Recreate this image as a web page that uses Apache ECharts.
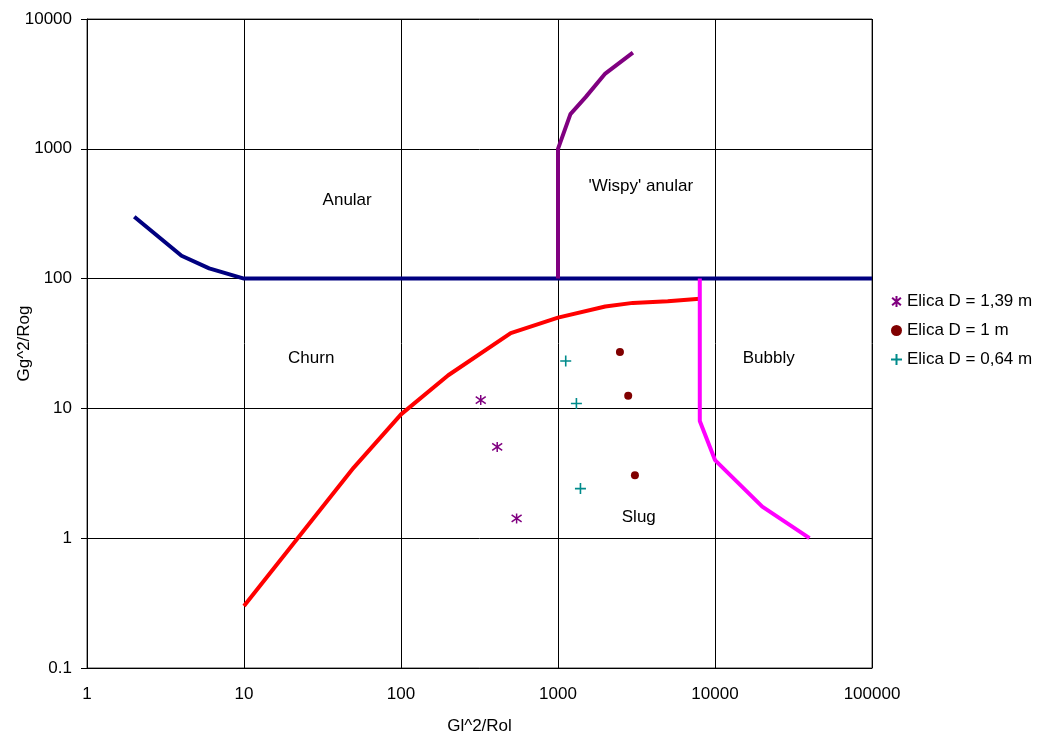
<!DOCTYPE html>
<html>
<head>
<meta charset="utf-8">
<script src="https://cdn.jsdelivr.net/npm/echarts@6/dist/echarts.min.js"></script>
<style>html,body{margin:0;padding:0;background:#fff}#c{width:1042px;height:735px}</style>
</head>
<body>
<div id="c"></div>
<script>
// Boundary lines
const anularLine = [[2, 300], [4, 150], [6, 120], [10, 100], [100000, 100]];
const wispyLine = [[1000, 100], [1000, 1000], [1200, 1850], [1500, 2500], [2000, 3800], [3000, 5500]];
const churnLine = [[10, 0.3], [50, 3.5], [100, 9], [200, 18], [500, 38], [1000, 50], [2000, 61], [3000, 65], [5000, 67], [8000, 70]];
const bubblyLine = [[8000, 100], [8000, 8], [10000, 4], [20000, 1.75], [40000, 1]];

// Measured points
const elica139 = [[322, 11.6], [410, 5.05], [545, 1.42]];
const elica100 = [[2480, 27.2], [2800, 12.5], [3090, 3.06]];
const elica064 = [[1120, 23.2], [1310, 10.9], [1390, 2.41]];

const seriesNames = ['Elica D = 1,39 m', 'Elica D = 1 m', 'Elica D = 0,64 m'];

// Region labels
const regionNames = ['Anular', "'Wispy' anular", 'Churn', 'Bubbly', 'Slug'];
const regionX = [45.4, 3370, 26.8, 22000, 3270];
const regionY = [400, 512, 24.2, 24.2, 1.45];

const xTicks = ['1', '10', '100', '1000', '10000', '100000'];
const yTicks = ['0.1', '1', '10', '100', '1000', '10000'];

const FONT = 'Liberation Sans, Arial, sans-serif';
const chart = echarts.init(document.getElementById('c'));

const regionData = regionNames.map((n, i) => [regionX[i], regionY[i], n]);

function fmt(v) {
  const e = Math.round(Math.log10(v));
  if (e < 0) return yTicks[0];
  return String(Math.pow(10, e));
}

chart.setOption({
  animation: false,
  backgroundColor: '#fff',
  textStyle: { fontFamily: FONT },
  grid: { left: 87, right: 170, top: 19, bottom: 67, show: true, borderColor: '#444', borderWidth: 1, containLabel: false, outerBoundsMode: 'none' },
  xAxis: {
    type: 'log', logBase: 10, min: 1, max: 100000,
    name: 'Gl^2/Rol', nameLocation: 'middle', nameGap: 50, nameMoveOverlap: false,
    nameTextStyle: { fontSize: 17, color: '#000', fontFamily: FONT },
    axisLine: { show: true, onZero: false, lineStyle: { color: '#000', width: 1 } },
    axisTick: { show: false },
    axisLabel: { fontSize: 17, color: '#000', margin: 18, fontFamily: FONT, formatter: fmt },
    splitLine: { show: true, lineStyle: { color: '#000', width: 1 } },
    minorTick: { show: false }
  },
  yAxis: {
    type: 'log', logBase: 10, min: 0.1, max: 10000,
    name: 'Gg^2/Rog', nameLocation: 'middle', nameGap: 54, nameMoveOverlap: false,
    nameTextStyle: { fontSize: 17, color: '#000', fontFamily: FONT },
    axisLine: { show: true, onZero: false, lineStyle: { color: '#000', width: 1 } },
    axisTick: { show: true, inside: false, length: 6, lineStyle: { color: '#000' } },
    axisLabel: { fontSize: 17, color: '#000', margin: 15, fontFamily: FONT, formatter: fmt },
    splitLine: { show: true, lineStyle: { color: '#000', width: 1 } }
  },
  legend: {
    orient: 'vertical', left: 885, top: 288, itemGap: 12,
    itemWidth: 11, itemHeight: 11,
    data: seriesNames,
    textStyle: { fontSize: 17, color: '#000', fontFamily: FONT }
  },
  series: [
    { type: 'line', data: anularLine, symbol: 'none', lineStyle: { color: '#000080', width: 4 }, silent: true, z: 3 },
    { type: 'line', data: wispyLine, symbol: 'none', lineStyle: { color: '#800080', width: 4 }, silent: true, z: 3 },
    { type: 'line', data: churnLine, symbol: 'none', lineStyle: { color: '#FF0000', width: 4 }, silent: true, z: 3 },
    { type: 'line', data: bubblyLine, symbol: 'none', lineStyle: { color: '#FF00FF', width: 4 }, silent: true, z: 3 },
    {
      name: seriesNames[0], type: 'scatter', data: elica139,
      symbol: 'path://M5,0L5,10M1,1.5L9,8.5M1,8.5L9,1.5', symbolSize: 10,
      itemStyle: { color: 'rgba(0,0,0,0)', borderColor: '#800080', borderWidth: 1.5, opacity: 1 }, z: 4
    },
    {
      name: seriesNames[1], type: 'scatter', data: elica100,
      symbol: 'circle', symbolSize: 8,
      itemStyle: { color: '#800000', opacity: 1 }, z: 4
    },
    {
      name: seriesNames[2], type: 'scatter', data: elica064,
      symbol: 'path://M5,0L5,10M0,5L10,5', symbolSize: 11,
      itemStyle: { color: 'rgba(0,0,0,0)', borderColor: '#008B8B', borderWidth: 1.6, opacity: 1 }, z: 4
    },
    {
      type: 'scatter', data: regionData, symbolSize: 0, silent: true, z: 5,
      itemStyle: { opacity: 1 },
      label: { show: true, position: 'inside', formatter: p => p.data[2], fontSize: 17, color: '#000', fontFamily: FONT }
    }
  ]
});
</script>
</body>
</html>
